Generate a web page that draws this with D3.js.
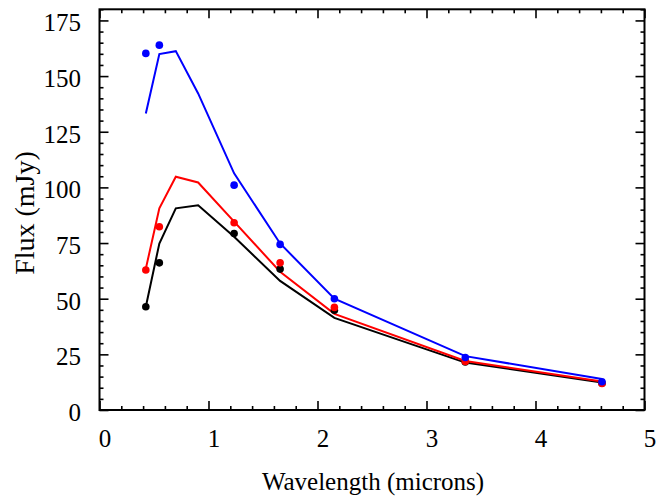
<!DOCTYPE html>
<html>
<head>
<meta charset="utf-8">
<script src="https://cdn.jsdelivr.net/npm/d3@7"></script>
<style>
  body { margin: 0; background: #fff; }
  svg { display: block; }
</style>
</head>
<body>
<svg id="chart" width="658" height="497"></svg>
<script>
const waveObs = [0.425, 0.549, 1.235, 1.657, 2.155, 3.356, 4.61];
const waveModel = [0.425, 0.549, 0.70, 0.905, 1.235, 1.657, 2.155, 3.356, 4.61];

const blueObs = [160.2, 163.9, 101.0, 74.4, 50.0, 23.6, 12.7];
const blueModel = [133.2, 159.9, 161.2, 142.2, 106.3, 74.8, 50.0, 24.2, 13.9];

const redObs = [62.9, 82.3, 84.1, 66.1, 46.1, 21.8, 11.9];
const redModel = [63.5, 90.6, 104.8, 102.2, 84.6, 62.1, 43.2, 22.0, 12.8];

const blackObs = [46.4, 66.1, 79.3, 63.3, 44.8, 21.6, 12.0];
const blackModel = [46.4, 74.8, 90.6, 92.0, 77.8, 58.0, 41.4, 21.3, 12.4];

const xTicks = [0, 1, 2, 3, 4, 5];
const yTicks = [0, 25, 50, 75, 100, 125, 150, 175];

const series = [
    {name: 'black', color: '#000000', obs: blackObs, model: blackModel},
    {name: 'red', color: '#ff0000', obs: redObs, model: redModel},
    {name: 'blue', color: '#0000ff', obs: blueObs, model: blueModel}
];

const serif = '"Liberation Serif", "Times New Roman", serif';
const svg = d3.select('#chart');
const plotLeft = 99.5, plotRight = 644.5, plotTop = 9.3, plotBottom = 410;

const x = d3.scaleLinear().domain([0, 5]).range([plotLeft, plotRight]);
const y = d3.scaleLinear().domain([0, 180]).range([plotBottom, plotTop]);

const xMinor = d3.range(0, 5.001, 0.2).filter(v => Math.abs(v - Math.round(v)) > 1e-6);
const yMinor = d3.range(0, 180.001, 5).filter(v => v % 25 !== 0);

function styleAxis(g) {
    g.select('.domain').remove();
    g.selectAll('line').attr('stroke', '#000').attr('stroke-width', 1.6);
}

// bottom axis with labels
svg.append('g')
    .attr('transform', `translate(0,${plotBottom})`)
    .call(d3.axisBottom(x).tickValues(xTicks).tickSize(-9).tickPadding(19).tickFormat(d3.format('d')))
    .call(styleAxis)
    .call(g => g.selectAll('text').attr('fill', '#000').attr('dx', 5)
        .style('font-family', serif).style('font-size', '25px'));
svg.append('g')
    .attr('transform', `translate(0,${plotBottom})`)
    .call(d3.axisBottom(x).tickValues(xMinor).tickSize(-4).tickFormat(''))
    .call(styleAxis);

// top axis, ticks only
svg.append('g')
    .attr('transform', `translate(0,${plotTop})`)
    .call(d3.axisTop(x).tickValues(xTicks).tickSize(-9).tickFormat(''))
    .call(styleAxis);
svg.append('g')
    .attr('transform', `translate(0,${plotTop})`)
    .call(d3.axisTop(x).tickValues(xMinor).tickSize(-4).tickFormat(''))
    .call(styleAxis);

// left axis with labels
svg.append('g')
    .attr('transform', `translate(${plotLeft},0)`)
    .call(d3.axisLeft(y).tickValues(yTicks).tickSize(-9).tickPadding(18.5))
    .call(styleAxis)
    .call(g => g.selectAll('text').attr('fill', '#000').attr('dy', '0.42em')
        .style('font-family', serif).style('font-size', '25px'));
svg.append('g')
    .attr('transform', `translate(${plotLeft},0)`)
    .call(d3.axisLeft(y).tickValues(yMinor).tickSize(-4).tickFormat(''))
    .call(styleAxis);

// right axis, ticks only
svg.append('g')
    .attr('transform', `translate(${plotRight},0)`)
    .call(d3.axisRight(y).tickValues(yTicks).tickSize(-9).tickFormat(''))
    .call(styleAxis);
svg.append('g')
    .attr('transform', `translate(${plotRight},0)`)
    .call(d3.axisRight(y).tickValues(yMinor).tickSize(-4).tickFormat(''))
    .call(styleAxis);

// frame
svg.append('rect')
    .attr('x', plotLeft).attr('y', plotTop)
    .attr('width', plotRight - plotLeft).attr('height', plotBottom - plotTop)
    .attr('fill', 'none').attr('stroke', '#000').attr('stroke-width', 2);

const line = d3.line()
    .x(d => x(d[0]))
    .y(d => y(d[1]));

series.forEach(s => {
    svg.append('path')
        .datum(waveModel.map((w, i) => [w, s.model[i]]))
        .attr('d', line)
        .attr('fill', 'none')
        .attr('stroke', s.color)
        .attr('stroke-width', 2)
        .attr('stroke-linejoin', 'miter');
});

series.forEach(s => {
    svg.append('g').selectAll('circle')
        .data(waveObs.map((w, i) => [w, s.obs[i]]))
        .enter()
        .append('circle')
        .attr('cx', d => x(d[0]))
        .attr('cy', d => y(d[1]))
        .attr('r', 3.8)
        .attr('fill', s.color);
});

// axis titles
svg.append('text')
    .attr('x', 373).attr('y', 490)
    .attr('text-anchor', 'middle')
    .style('font-family', serif).style('font-size', '25px')
    .text('Wavelength (microns)');

svg.append('text')
    .attr('transform', 'translate(34,213) rotate(-90)')
    .attr('text-anchor', 'middle')
    .style('font-family', serif).style('font-size', '28px')
    .text('Flux (mJy)');
</script>
</body>
</html>
